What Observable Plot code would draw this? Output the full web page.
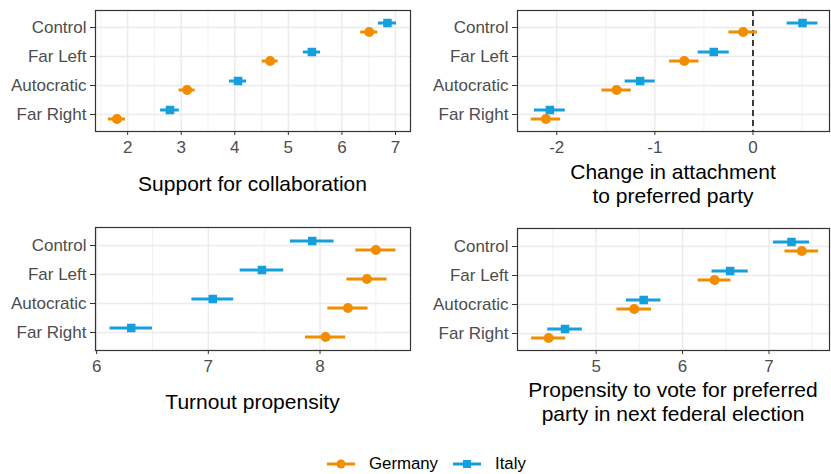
<!DOCTYPE html>
<html>
<head>
<meta charset="utf-8">
<script src="https://cdn.jsdelivr.net/npm/d3@7"></script>
<script src="https://cdn.jsdelivr.net/npm/@observablehq/plot@0.6"></script>
<style>
  html, body { margin: 0; padding: 0; background: #fff; }
  body { width: 831px; height: 474px; position: relative; overflow: hidden;
         font-family: "Liberation Sans", Arial, Helvetica, sans-serif; }
  .panel { position: absolute; }
  .title { position: absolute; text-align: center; font-size: 21px; color: #000; line-height: 24px; white-space: nowrap; }
  .legend { position: absolute; top: 454px; left: 327px; display: flex; align-items: center; font-size: 16.8px; color: #000; }
  .legend span { margin-right: 15px; }
</style>
</head>
<body>
<script>
// ---------- data ----------
const categories = ["Control", "Far Left", "Autocratic", "Far Right"];
const countries = ["Germany", "Italy"];

const supportGermany    = [6.51, 4.66, 3.11, 1.80];
const supportGermanyErr = [0.16, 0.15, 0.15, 0.16];
const supportItaly      = [6.85, 5.44, 4.06, 2.79];
const supportItalyErr   = [0.17, 0.16, 0.16, 0.175];

const attachGermany    = [-0.10, -0.70, -1.39, -2.11];
const attachGermanyErr = [0.145, 0.15, 0.15, 0.15];
const attachItaly      = [0.505, -0.40, -1.15, -2.07];
const attachItalyErr   = [0.157, 0.158, 0.153, 0.157];

const turnoutGermany    = [8.50, 8.42, 8.25, 8.05];
const turnoutGermanyErr = [0.18, 0.18, 0.18, 0.18];
const turnoutItaly      = [7.93, 7.48, 7.04, 6.31];
const turnoutItalyErr   = [0.195, 0.195, 0.187, 0.19];

const ptvGermany    = [7.38, 6.37, 5.44, 4.45];
const ptvGermanyErr = [0.195, 0.19, 0.20, 0.197];
const ptvItaly      = [7.26, 6.55, 5.55, 4.64];
const ptvItalyErr   = [0.21, 0.21, 0.20, 0.20];

const supportTicks = [2, 3, 4, 5, 6, 7];
const attachTicks  = [-2, -1, 0];
const turnoutTicks = [6, 7, 8];
const ptvTicks     = [5, 6, 7];

const titles = {
  support: ["Support for collaboration"],
  attach: ["Change in attachment", "to preferred party"],
  turnout: ["Turnout propensity"],
  ptv: ["Propensity to vote for preferred", "party in next federal election"]
};

// ---------- styling ----------
const colors = { Germany: "#F28C00", Italy: "#14A0DC" };
const FONT = "'Liberation Sans', Arial, Helvetica, sans-serif";

function rows(means, errs, country) {
  return categories.map((c, i) => ({
    category: c, country, mean: means[i], lo: means[i] - errs[i], hi: means[i] + errs[i]
  }));
}

function minorTicks(major, domain) {
  const step = major[1] - major[0];
  const out = [];
  for (let v = major[0] - step / 2; v <= domain[1]; v += step) {
    if (v >= domain[0]) out.push(v);
  }
  return out.filter(v => !major.includes(v));
}

const panels = [
  { key: "support", left: 0, top: 0, ml: 95, mr: 6, mt: 10, plotH: 121, domain: [1.40, 7.28], ticks: supportTicks, pad: 0.55,
    de: rows(supportGermany, supportGermanyErr, "Germany"), it: rows(supportItaly, supportItalyErr, "Italy"),
    titleTop: [172], zero: false },
  { key: "attach", left: 415, top: 0, ml: 102, mr: 2, mt: 10, plotH: 121, domain: [-2.40, 0.78], ticks: attachTicks, pad: 0.55,
    de: rows(attachGermany, attachGermanyErr, "Germany"), it: rows(attachItaly, attachItalyErr, "Italy"),
    titleTop: [160], zero: true },
  { key: "turnout", left: 0, top: 217, ml: 95, mr: 6, mt: 10, plotH: 123, domain: [5.99, 8.81], ticks: turnoutTicks, pad: 0.6,
    de: rows(turnoutGermany, turnoutGermanyErr, "Germany"), it: rows(turnoutItaly, turnoutItalyErr, "Italy"),
    titleTop: [390], zero: false },
  { key: "ptv", left: 415, top: 217, ml: 102, mr: 2, mt: 11, plotH: 122, domain: [4.09, 7.70], ticks: ptvTicks, pad: 0.6,
    de: rows(ptvGermany, ptvGermanyErr, "Germany"), it: rows(ptvItaly, ptvItalyErr, "Italy"),
    titleTop: [378], zero: false }
];

const W = 416;
const DODGE = 4.5;

for (const p of panels) {
  const mb = 30;
  const height = p.mt + p.plotH + mb;
  const minor = minorTicks(p.ticks, p.domain);
  const marks = [
    Plot.ruleX(minor, { stroke: "#ebebeb", strokeWidth: 0.7 }),
    Plot.ruleX(p.ticks, { stroke: "#ebebeb", strokeWidth: 1.4 }),
    Plot.ruleY(categories, { y: d => d, stroke: "#ebebeb", strokeWidth: 1.4 }),
  ];
  if (p.zero) marks.push(Plot.ruleX([0], { stroke: "#111", strokeWidth: 1.6, strokeDasharray: "6,4" }));
  marks.push(
    Plot.ruleY(p.de, { y: "category", x1: "lo", x2: "hi", stroke: colors.Germany, strokeWidth: 3, dy: DODGE }),
    Plot.dot(p.de, { x: "mean", y: "category", r: 5, fill: colors.Germany, symbol: "circle", dy: DODGE }),
    Plot.ruleY(p.it, { y: "category", x1: "lo", x2: "hi", stroke: colors.Italy, strokeWidth: 3, dy: -DODGE }),
    Plot.dot(p.it, { x: "mean", y: "category", r: 4.8, fill: colors.Italy, symbol: "square", dy: -DODGE }),
    Plot.frame({ stroke: "#333", strokeWidth: 1.2 }),
    Plot.axisX({ ticks: p.ticks, tickFormat: d => String(d), tickSize: 4, tickPadding: 5, label: null, stroke: "#333", fill: "#4d4d4d", fontSize: 17 }),
    Plot.axisY({ tickSize: 5, tickPadding: 4, label: null, stroke: "#333", fill: "#4d4d4d", fontSize: 17 })
  );
  const chart = Plot.plot({
    width: W, height,
    marginLeft: p.ml, marginRight: p.mr, marginTop: p.mt, marginBottom: mb,
    x: { domain: p.domain },
    y: { type: "point", domain: categories, padding: p.pad },
    style: { fontSize: "17px", fontFamily: FONT, background: "transparent", color: "#4d4d4d" },
    marks
  });
  const div = document.createElement("div");
  div.className = "panel";
  div.style.left = p.left + "px";
  div.style.top = p.top + "px";
  div.appendChild(chart);
  document.body.appendChild(div);

  const t = document.createElement("div");
  t.className = "title";
  const cx = p.left + p.ml + (W - p.ml - p.mr) / 2;
  t.style.left = (cx - 200) + "px";
  t.style.width = "400px";
  t.style.top = p.titleTop[0] + "px";
  t.innerHTML = titles[p.key].join("<br>");
  document.body.appendChild(t);
}

// ---------- legend ----------
const legend = document.createElement("div");
legend.className = "legend";
legend.innerHTML = countries.map(c => {
  const glyph = c === "Germany"
    ? `<circle cx="14" cy="8" r="4.5" fill="${colors[c]}"/>`
    : `<rect x="10" y="4" width="8" height="8" fill="${colors[c]}"/>`;
  return `<svg width="28" height="16" style="margin-right:14px"><line x1="0" x2="28" y1="8" y2="8" stroke="${colors[c]}" stroke-width="3"/>${glyph}</svg><span>${c}</span>`;
}).join("");
document.body.appendChild(legend);
</script>
</body>
</html>
